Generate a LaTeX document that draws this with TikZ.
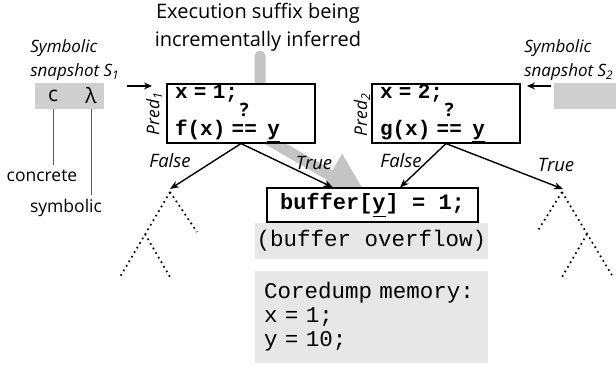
\documentclass[tikz,border=0pt]{standalone}
\usepackage{fontspec}
\setmainfont{Open Sans}
\setmonofont{Liberation Mono}
\usetikzlibrary{arrows.meta}

\definecolor{snapgray}{RGB}{207,207,207}
\definecolor{dumpgray}{RGB}{231,231,231}
\definecolor{flowgray}{RGB}{196,196,196}
\definecolor{leadgray}{RGB}{90,90,90}

% "==" with a "?" on top
\newcommand{\qeq}{\ooalign{\hfil\raisebox{0.9em}{\rmfamily\bfseries\fontsize{18.5}{18}\selectfont ?}\hfil\cr==\cr}}
\newcommand{\tsp}{\hspace{0.3em}}

\tikzset{every picture/.style={line width=0.75pt}}
\tikzset{
  predbox/.style={draw, line width=1.1pt, fill=white, minimum width=148pt, minimum height=59pt,
    text width=132pt, align=left, inner sep=0pt, font=\ttfamily\bfseries\fontsize{21}{26}\selectfont},
  predlabel/.style={rotate=90, inner sep=0pt, font=\itshape\fontsize{17.5}{18}\selectfont},
  branchlabel/.style={inner sep=0pt, font=\itshape\fontsize{18.5}{20}\selectfont},
  snaplabel/.style={anchor=west, align=left, inner sep=0pt, font=\itshape\fontsize{17}{24}\selectfont},
  leadlabel/.style={inner sep=0pt, font=\fontsize{17.5}{20}\selectfont},
  snapbox/.style={fill=snapgray, inner sep=0pt, minimum height=26pt},
  treearrow/.style={line width=1.4pt, -{Stealth[length=9pt,width=7pt]}},
  dotbranch/.style={line width=1.7pt, dash pattern=on 1.7pt off 3.6pt},
}

\begin{document}
\begin{tikzpicture}[x=1pt,y=1pt,yscale=-1]
\useasboundingbox (0,0) rectangle (616,368);

% Title
\node[align=center, inner sep=0pt, font=\fontsize{20}{28}\selectfont] (title) at (258,27) {Execution suffix being\\incrementally inferred};

% inferred suffix (gray arrow)
\draw[flowgray, line width=11pt, line join=round, line cap=round, -{Triangle[length=44pt,width=46pt]}] (260,56) -- (260,135) -- (368,197);

% Predicate boxes
\node[predbox] (pred1) at (241,113.5) {x\tsp=\tsp1;\\f(x)\tsp\qeq\hspace{0.5em}\underline{y}};
\node[predbox] (pred2) at (446,113.5) {x\tsp=\tsp2;\\g(x)\tsp\qeq\hspace{0.5em}\underline{y}};
\node[predlabel] (p1lab) at (154,114) {Pred\textsubscript{1}};
\node[predlabel] (p2lab) at (362,115) {Pred\textsubscript{2}};

% Failing statement and coredump
\node[draw, line width=1.1pt, fill=white, minimum width=211pt, minimum height=34pt, inner sep=0pt,
  font=\ttfamily\bfseries\fontsize{22}{22}\selectfont] (buf) at (372.5,205) {buffer[\underline{y}] = 1;};
\node[fill=dumpgray, minimum width=233pt, minimum height=36pt, inner sep=0pt,
  font=\ttfamily\fontsize{22.5}{22}\selectfont] (ovf) at (371.5,241) {(buffer overflow)};
\node[fill=dumpgray, minimum width=233pt, minimum height=92pt, text width=215pt, align=left, inner sep=0pt,
  font=\ttfamily\fontsize{22.5}{24}\selectfont] (dump) at (371.5,317) {Coredump\ memory:\\x = 1;\\y = 10;};

% Snapshot S1
\node[snaplabel] (s1lab) at (30,60) {Symbolic\\snapshot S\textsubscript{1}};
\node[snapbox, minimum width=69pt] (snap1) at (69.5,96) {};
\node[inner sep=0pt, font=\fontsize{21}{21}\selectfont] (cval) at (53,96) {c};
\node[inner sep=0pt, font=\fontsize{21}{21}\selectfont] (lval) at (91,96) {λ};
\node[leadlabel] (conc) at (42,176) {concrete};
\node[leadlabel] (symb) at (66,208) {symbolic};
\draw[leadgray, line width=1pt] (cval |- snap1.south) -- (cval |- 0,165);
\draw[leadgray, line width=1pt] (lval |- snap1.south) -- (lval |- 0,195);
\coordinate (s1from) at (127,86);
\coordinate (s1to) at (152,86);
\draw[line width=1.4pt, -{Stealth[length=8pt,width=7pt]}] (s1from) -- (s1to);

% Snapshot S2
\node[snaplabel] (s2lab) at (524,60) {Symbolic\\snapshot S\textsubscript{2}};
\node[snapbox, minimum width=70pt] (snap2) at (589,96) {};
\coordinate (s2from) at (551,86);
\coordinate (s2to) at (527,86);
\draw[line width=1.4pt, -{Stealth[length=8pt,width=7pt]}] (s2from) -- (s2to);

% Branches
\coordinate (lapex) at (170,189);
\coordinate (rapex) at (563,189);
\draw[treearrow] (pred1.south) -- (lapex);
\draw[treearrow] (pred1.south) -- ([xshift=-39.5pt]buf.north);
\draw[treearrow] (pred2.south) -- ([xshift=27.5pt]buf.north);
\draw[treearrow] (pred2.south) -- (rapex);
\node[branchlabel] (f1) at (170,161) {False};
\node[branchlabel] (t1) at (314,163) {True};
\node[branchlabel] (f2) at (401,161) {False};
\node[branchlabel] (t2) at (556,165) {True};

% unexplored subtrees
\draw[dotbranch] (170,192) -- (120,277);
\draw[dotbranch] (170,192) -- (197,232);
\draw[dotbranch] (145,234) -- (170,277);
\draw[dotbranch] (562,192) -- (537,232);
\draw[dotbranch] (562,192) -- (613,277);
\draw[dotbranch] (587,234) -- (562,277);

\end{tikzpicture}
\end{document}
